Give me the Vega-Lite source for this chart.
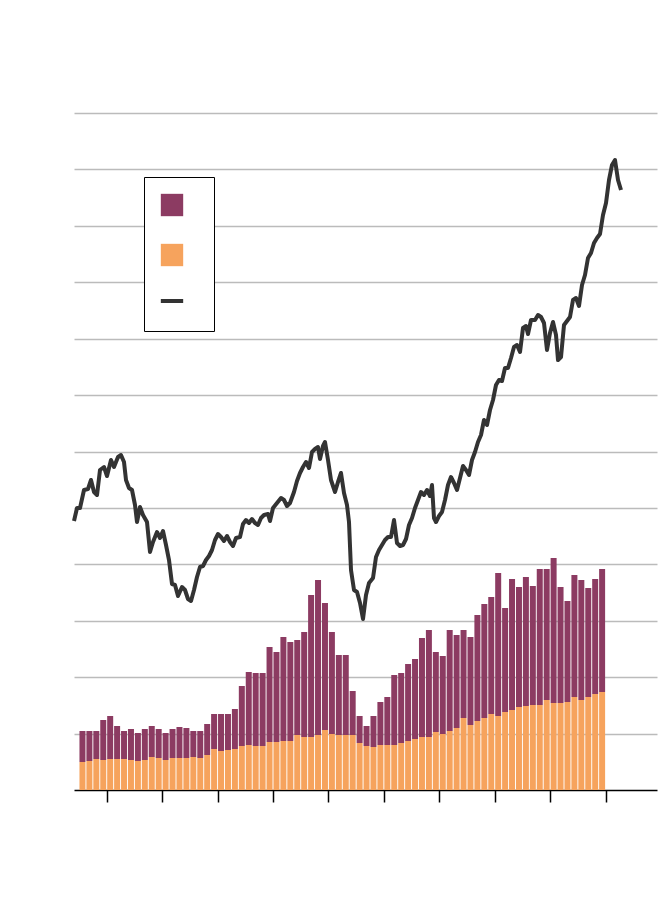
{"$schema":"https://vega.github.io/schema/vega-lite/v6.json","width":583,"height":677,"autosize":"none","padding":{"left":74,"top":113,"right":13,"bottom":116},"background":"white","config":{"view":{"stroke":null}},
"datasets":{"bars":[{"q":0.5,"o":28,"t":59},{"q":1.5,"o":29,"t":59},{"q":2.5,"o":31,"t":59},{"q":3.5,"o":30,"t":70},{"q":4.5,"o":31,"t":74},{"q":5.5,"o":31,"t":64},{"q":6.5,"o":31,"t":59},{"q":7.5,"o":30,"t":61},{"q":8.5,"o":29,"t":57},{"q":9.5,"o":30,"t":61},{"q":10.5,"o":33,"t":64},{"q":11.5,"o":32,"t":61},{"q":12.5,"o":30,"t":57},{"q":13.5,"o":32,"t":61},{"q":14.5,"o":32,"t":63},{"q":15.5,"o":32,"t":62},{"q":16.5,"o":33,"t":59},{"q":17.5,"o":32,"t":59},{"q":18.5,"o":35,"t":66},{"q":19.5,"o":41,"t":76},{"q":20.5,"o":39,"t":76},{"q":21.5,"o":40,"t":76},{"q":22.5,"o":41,"t":81},{"q":23.5,"o":44,"t":104},{"q":24.5,"o":45,"t":118},{"q":25.5,"o":44,"t":117},{"q":26.5,"o":44,"t":117},{"q":27.5,"o":48,"t":143},{"q":28.5,"o":48,"t":138},{"q":29.5,"o":49,"t":153},{"q":30.5,"o":49,"t":148},{"q":31.5,"o":55,"t":150},{"q":32.5,"o":53,"t":158},{"q":33.5,"o":53,"t":195},{"q":34.5,"o":55,"t":210},{"q":35.5,"o":60,"t":187},{"q":36.5,"o":56,"t":158},{"q":37.5,"o":55,"t":135},{"q":38.5,"o":55,"t":135},{"q":39.5,"o":55,"t":99},{"q":40.5,"o":47,"t":74},{"q":41.5,"o":44,"t":64},{"q":42.5,"o":43,"t":74},{"q":43.5,"o":45,"t":88},{"q":44.5,"o":45,"t":93},{"q":45.5,"o":45,"t":115},{"q":46.5,"o":47,"t":117},{"q":47.5,"o":49,"t":126},{"q":48.5,"o":51,"t":131},{"q":49.5,"o":53,"t":152},{"q":50.5,"o":53,"t":160},{"q":51.5,"o":58,"t":138},{"q":52.5,"o":56,"t":134},{"q":53.5,"o":59,"t":160},{"q":54.5,"o":62,"t":155},{"q":55.5,"o":72,"t":160},{"q":56.5,"o":65,"t":153},{"q":57.5,"o":69,"t":175},{"q":58.5,"o":72,"t":186},{"q":59.5,"o":76,"t":193},{"q":60.5,"o":74,"t":217},{"q":61.5,"o":78,"t":182},{"q":62.5,"o":80,"t":211},{"q":63.5,"o":83,"t":203},{"q":64.5,"o":84,"t":213},{"q":65.5,"o":85,"t":204},{"q":66.5,"o":85,"t":221},{"q":67.5,"o":90,"t":221},{"q":68.5,"o":87,"t":232},{"q":69.5,"o":87,"t":203},{"q":70.5,"o":88,"t":189},{"q":71.5,"o":93,"t":215},{"q":72.5,"o":90,"t":210},{"q":73.5,"o":93,"t":202},{"q":74.5,"o":96,"t":211},{"q":75.5,"o":98,"t":221}],
"line":[{"d":0,"v":269},{"d":3,"v":282},{"d":6,"v":282},{"d":10,"v":300},{"d":14,"v":301},{"d":17,"v":310},{"d":20,"v":298},{"d":23,"v":295},{"d":26,"v":320},{"d":30,"v":323},{"d":33,"v":314},{"d":37,"v":330},{"d":40,"v":323},{"d":44,"v":333},{"d":47,"v":335},{"d":50,"v":328},{"d":52,"v":310},{"d":55,"v":302},{"d":58,"v":300},{"d":61,"v":285},{"d":63,"v":268},{"d":66,"v":283},{"d":69,"v":275},{"d":73,"v":268},{"d":76,"v":238},{"d":79,"v":248},{"d":83,"v":258},{"d":86,"v":252},{"d":89,"v":259},{"d":92,"v":245},{"d":95,"v":230},{"d":98,"v":206},{"d":101,"v":205},{"d":104,"v":194},{"d":108,"v":203},{"d":111,"v":200},{"d":114,"v":191},{"d":117,"v":189},{"d":120,"v":200},{"d":123,"v":213},{"d":126,"v":223},{"d":129,"v":224},{"d":132,"v":230},{"d":135,"v":234},{"d":138,"v":240},{"d":141,"v":250},{"d":144,"v":256},{"d":147,"v":253},{"d":150,"v":249},{"d":153,"v":254},{"d":156,"v":248},{"d":159,"v":244},{"d":162,"v":252},{"d":166,"v":253},{"d":169,"v":266},{"d":172,"v":270},{"d":175,"v":267},{"d":178,"v":271},{"d":181,"v":267},{"d":184,"v":265},{"d":187,"v":272},{"d":190,"v":275},{"d":194,"v":276},{"d":196,"v":269},{"d":199,"v":282},{"d":203,"v":287},{"d":207,"v":292},{"d":210,"v":290},{"d":213,"v":284},{"d":216,"v":287},{"d":220,"v":298},{"d":223,"v":309},{"d":226,"v":317},{"d":229,"v":323},{"d":232,"v":328},{"d":235,"v":322},{"d":238,"v":338},{"d":241,"v":341},{"d":244,"v":343},{"d":246,"v":331},{"d":249,"v":344},{"d":251,"v":348},{"d":254,"v":330},{"d":257,"v":310},{"d":261,"v":298},{"d":264,"v":308},{"d":267,"v":317},{"d":270,"v":297},{"d":273,"v":285},{"d":275,"v":268},{"d":277,"v":220},{"d":280,"v":200},{"d":283,"v":198},{"d":286,"v":187},{"d":289,"v":171},{"d":292,"v":195},{"d":295,"v":207},{"d":299,"v":212},{"d":302,"v":233},{"d":305,"v":240},{"d":308,"v":245},{"d":311,"v":250},{"d":314,"v":253},{"d":317,"v":253},{"d":320,"v":270},{"d":323,"v":247},{"d":326,"v":244},{"d":329,"v":245},{"d":332,"v":251},{"d":335,"v":265},{"d":338,"v":272},{"d":341,"v":282},{"d":344,"v":290},{"d":347,"v":298},{"d":350,"v":295},{"d":353,"v":300},{"d":356,"v":294},{"d":358,"v":305},{"d":360,"v":272},{"d":362,"v":268},{"d":365,"v":274},{"d":368,"v":278},{"d":371,"v":290},{"d":374,"v":305},{"d":377,"v":313},{"d":380,"v":307},{"d":383,"v":300},{"d":386,"v":312},{"d":389,"v":324},{"d":392,"v":320},{"d":395,"v":315},{"d":398,"v":330},{"d":401,"v":338},{"d":404,"v":348},{"d":407,"v":355},{"d":410,"v":370},{"d":413,"v":365},{"d":416,"v":380},{"d":419,"v":390},{"d":422,"v":405},{"d":425,"v":410},{"d":428,"v":409},{"d":431,"v":422},{"d":434,"v":422},{"d":437,"v":432},{"d":440,"v":443},{"d":443,"v":445},{"d":446,"v":438},{"d":449,"v":462},{"d":452,"v":464},{"d":454,"v":456},{"d":457,"v":470},{"d":461,"v":470},{"d":464,"v":475},{"d":467,"v":473},{"d":470,"v":467},{"d":473,"v":440},{"d":476,"v":457},{"d":479,"v":468},{"d":482,"v":455},{"d":484,"v":430},{"d":487,"v":433},{"d":490,"v":465},{"d":493,"v":469},{"d":496,"v":473},{"d":499,"v":490},{"d":502,"v":492},{"d":505,"v":484},{"d":508,"v":505},{"d":511,"v":515},{"d":514,"v":532},{"d":517,"v":537},{"d":520,"v":547},{"d":523,"v":552},{"d":526,"v":556},{"d":529,"v":575},{"d":532,"v":587},{"d":535,"v":610},{"d":538,"v":625},{"d":541,"v":630},{"d":544,"v":610},{"d":547,"v":600}]},
"layer":[
{"layer":[
{"data":{"name":"bars"},"mark":{"type":"bar","width":6},"encoding":{"x":{"field":"q","type":"quantitative","scale":{"domain":[0,82.7],"nice":false,"zero":false},"axis":{"orient":"bottom","values":[4,8,12,16,20,24,28,32,36,40,44,48,52,56,60,64,68,72,76,80],"labels":false,"title":null,"grid":false,"tickSize":12,"tickColor":"#000","tickWidth":1.5,"domainColor":"#000","domainWidth":1.5}},"y":{"field":"t","type":"quantitative","scale":{"domain":[0,677],"nice":false},"axis":{"values":[56.42,112.83,169.25,225.67,282.08,338.5,394.92,451.33,507.75,564.17,620.58,677],"labels":false,"ticks":false,"domain":false,"title":null,"gridColor":"#bbbbbb","gridWidth":1.5}},"y2":{"field":"o"},"color":{"datum":"A","type":"nominal","scale":{"domain":["A","B","C"],"range":["#8c3b62","#f6a35d","#333333"]},"legend":{"orient":"none","legendX":70,"legendY":64,"title":null,"fillColor":"white","strokeColor":"#000","padding":22,"symbolSize":500,"rowPadding":26,"labelExpr":"'                                             '","labelFontSize":12,"encode":{"symbols":{"update":{"shape":{"signal":"datum.value==='C' ? 'stroke' : 'square'"},"strokeWidth":{"signal":"datum.value==='C' ? 4 : 0"},"stroke":{"value":"#333333"},"opacity":{"value":1}}}}}}}},
{"data":{"name":"bars"},"mark":{"type":"bar","width":6},"encoding":{"x":{"field":"q","type":"quantitative"},"y":{"field":"o","type":"quantitative"},"color":{"datum":"B","type":"nominal"}}}
]},
{"data":{"name":"line"},"mark":{"type":"line","strokeWidth":4,"strokeJoin":"round"},"encoding":{"x":{"field":"d","type":"quantitative","scale":{"domain":[0,583],"nice":false},"axis":null},"y":{"field":"v","type":"quantitative"},"color":{"datum":"C","type":"nominal"}}}
],"resolve":{"scale":{"x":"independent"}}}
